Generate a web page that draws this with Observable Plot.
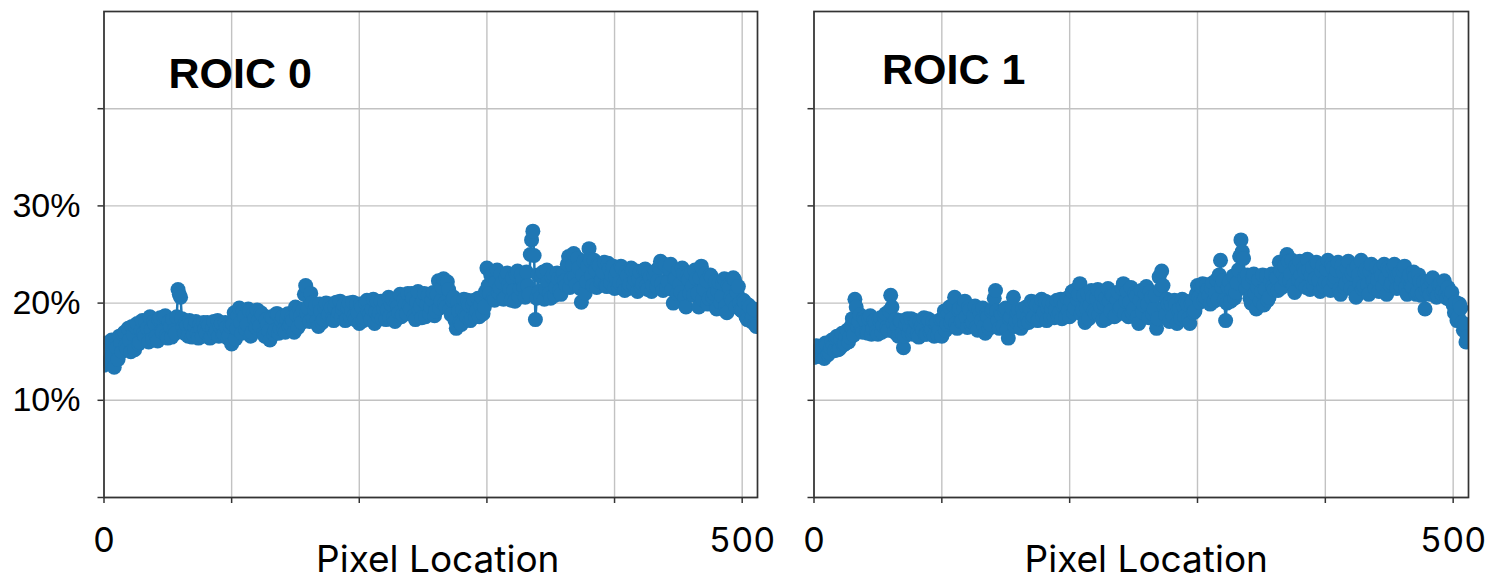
<!DOCTYPE html>
<html>
<head>
<meta charset="utf-8">
<script src="https://cdn.jsdelivr.net/npm/d3@7"></script>
<script src="https://cdn.jsdelivr.net/npm/@observablehq/plot@0.6"></script>
<style>
  html, body { margin: 0; padding: 0; background: #fff; }
  #wrap { position: relative; width: 1488px; height: 582px; overflow: hidden; background: #fff; }
  #wrap svg { position: absolute; top: 0; }
</style>
</head>
<body>
<div id="wrap"></div>
<script>
// ROIC 0 values (%) at even pixel locations (0, 2, 4, ... 510)
const roic0Even = [
  13.6, 15.9, 14.1, 16.2, 13.4, 15.4, 16.6, 15.0, 17.0, 15.3,
  16.2, 17.6, 15.2, 17.9, 16.0, 18.2, 16.6, 17.4, 18.6, 16.3,
  17.8, 16.1, 18.5, 17.0, 18.7, 16.4, 17.6, 18.3, 16.9, 21.4,
  20.6, 17.5, 18.0, 16.6, 17.8, 16.8, 18.1, 16.4, 17.4, 18.0,
  16.9, 17.7, 16.5, 18.1, 17.2, 16.6, 17.9, 16.8, 17.5, 16.7,
  15.8, 19.0, 17.4, 19.5, 16.9, 18.6, 17.8, 19.2, 17.0, 18.4,
  19.3, 17.6, 18.8, 16.6, 17.8, 16.2, 18.5, 17.2, 18.9, 17.4,
  18.6, 17.0, 18.9, 17.8, 18.2, 19.6, 17.5, 18.7, 19.3, 21.8,
  19.5, 21.0, 18.4, 19.8, 17.6, 19.2, 18.3, 20.0, 18.8, 19.5,
  18.2, 20.1, 19.0, 18.6, 19.8, 18.3, 20.0, 19.2, 18.7, 19.9,
  17.9, 19.6, 18.5, 20.3, 18.8, 19.4, 17.9, 20.2, 19.0, 18.4,
  20.1, 19.3, 18.6, 20.4, 18.1, 19.6, 20.9, 18.8, 19.8, 21.0,
  19.4, 20.5, 18.3, 21.2, 19.7, 20.3, 18.6, 20.8, 19.6, 21.1,
  19.2, 22.3, 20.2, 22.5, 19.6, 21.4, 18.8, 20.6, 17.4, 19.2,
  17.8, 20.4, 18.6, 19.8, 18.4, 20.3, 19.2, 18.6, 20.6, 19.6,
  23.6, 21.0, 22.8, 20.3, 23.4, 21.6, 22.1, 20.5, 23.1, 21.4,
  22.6, 20.2, 23.3, 21.5, 22.4, 20.6, 21.8, 25.0, 27.4, 18.3,
  22.9, 20.6, 23.2, 21.4, 22.2, 20.5, 23.0, 21.6, 22.5, 20.9,
  23.1, 21.8, 24.8, 22.5, 25.1, 21.9, 23.6, 20.1, 24.3, 22.2,
  25.6, 22.8, 24.4, 21.6, 23.9, 22.4, 24.2, 21.7, 23.5, 22.9,
  21.5, 23.3, 22.1, 23.6, 21.3, 22.8, 21.9, 23.4, 22.4, 21.2,
  23.2, 22.0, 23.5, 21.4, 22.7, 21.8, 23.3, 22.3, 24.3, 21.3,
  23.9, 22.2, 24.0, 20.0, 22.6, 23.4, 21.1, 23.0, 19.6, 22.4,
  23.1, 20.8, 22.5, 19.6, 23.8, 21.4, 22.3, 20.5, 22.7, 21.0,
  19.4, 22.1, 20.7, 22.5, 19.0, 21.6, 20.3, 22.4, 21.1, 20.0,
  19.2, 20.1, 18.3, 19.6, 18.6, 17.8
];
// ROIC 0 values (%) at odd pixel locations (1, 3, 5, ... 511)
const roic0Odd = [
  15.2, 13.9, 16.0, 14.6, 15.7, 14.2, 15.9, 16.8, 15.6, 17.4,
  15.0, 16.8, 17.5, 15.8, 17.2, 16.9, 18.0, 16.0, 17.3, 18.1,
  16.6, 18.3, 17.1, 18.6, 16.7, 18.1, 16.5, 17.2, 18.6, 20.9,
  18.4, 16.9, 17.7, 18.2, 16.5, 17.6, 16.9, 17.8, 16.6, 17.3,
  18.0, 16.4, 17.4, 16.9, 18.2, 17.6, 16.7, 18.0, 16.4, 17.6,
  17.8, 16.3, 18.7, 18.0, 19.2, 17.3, 19.4, 16.6, 18.9, 17.5,
  18.2, 19.0, 16.9, 18.3, 17.1, 18.6, 16.8, 18.9, 16.9, 18.2,
  17.3, 18.4, 17.6, 18.5, 17.0, 18.8, 19.4, 18.0, 20.9, 19.0,
  18.1, 20.0, 19.3, 18.2, 19.9, 18.0, 19.6, 18.6, 19.9, 18.4,
  19.6, 18.5, 20.2, 19.4, 18.2, 19.6, 18.6, 20.1, 18.3, 19.0,
  19.9, 18.2, 20.0, 19.1, 18.3, 20.4, 19.1, 18.6, 20.2, 19.5,
  18.3, 20.6, 19.9, 18.5, 20.0, 19.0, 18.6, 20.4, 18.9, 19.7,
  21.0, 18.7, 20.1, 19.3, 18.5, 21.0, 19.9, 18.9, 20.4, 18.7,
  20.9, 19.5, 21.6, 20.0, 22.2, 19.3, 20.3, 18.2, 20.1, 18.0,
  19.3, 18.8, 20.3, 18.2, 19.9, 18.6, 20.5, 19.8, 18.9, 21.2,
  21.8, 22.9, 20.5, 22.2, 21.1, 23.0, 20.4, 22.6, 21.9, 20.3,
  21.3, 23.0, 20.7, 22.9, 21.6, 23.2, 20.9, 26.5, 24.9, 20.5,
  21.2, 22.8, 20.4, 23.4, 21.0, 22.7, 20.8, 23.1, 21.3, 22.6,
  22.3, 24.0, 21.6, 23.9, 22.7, 24.6, 21.5, 22.9, 21.0, 23.8,
  24.4, 21.8, 23.4, 24.0, 22.2, 23.2, 21.8, 24.1, 22.1, 23.8,
  22.8, 21.6, 23.8, 22.0, 23.2, 21.5, 23.6, 21.9, 23.3, 22.5,
  21.6, 23.4, 21.8, 23.1, 21.2, 22.9, 21.7, 23.7, 22.0, 24.0,
  21.6, 23.5, 21.4, 22.5, 21.0, 21.9, 23.6, 20.6, 22.8, 21.0,
  21.7, 23.4, 21.0, 22.6, 20.4, 23.0, 19.9, 22.9, 20.6, 22.2,
  21.2, 20.1, 22.0, 19.7, 21.8, 20.6, 22.6, 19.6, 21.7, 19.3,
  20.3, 18.6, 19.8, 18.1, 19.4, 17.6
];
// ROIC 1 values (%) at even pixel locations (0, 2, 4, ... 510)
const roic1Even = [
  14.4, 15.6, 14.8, 15.2, 14.3, 15.7, 14.9, 16.2, 15.1, 16.6,
  15.3, 16.9, 15.8, 17.2, 16.5, 18.4, 20.4, 17.6, 18.8, 17.0,
  18.2, 16.9, 18.7, 17.4, 18.0, 16.8, 18.5, 17.7, 18.9, 17.2,
  20.8, 17.9, 18.3, 16.6, 18.1, 15.4, 17.8, 16.9, 18.4, 17.1,
  18.0, 16.5, 17.6, 18.5, 16.8, 18.2, 17.3, 16.6, 18.0, 17.2,
  16.6, 19.2, 17.8, 19.6, 18.4, 20.6, 17.4, 19.5, 18.2, 20.2,
  17.5, 19.3, 18.0, 19.7, 17.2, 18.9, 19.5, 16.9, 18.6, 17.8,
  19.4, 21.3, 18.2, 19.0, 17.6, 19.5, 16.4, 18.6, 20.6, 18.1,
  19.3, 17.4, 18.8, 19.6, 18.0, 20.2, 18.6, 19.8, 18.3, 20.4,
  19.1, 18.2, 20.0, 19.4, 18.5, 20.3, 19.0, 18.4, 19.9, 20.5,
  18.6, 21.2, 19.5, 20.4, 22.0, 19.3, 18.0, 21.0, 19.8, 20.6,
  18.9, 21.4, 19.7, 18.2, 20.5, 21.5, 19.2, 20.8, 18.7, 21.1,
  19.6, 22.0, 20.2, 18.6, 21.6, 19.4, 20.7, 17.9, 21.3, 19.8,
  21.7, 18.5, 20.6, 19.4, 17.4, 22.7, 23.3, 19.6, 20.4, 18.1,
  19.8, 20.3, 17.9, 19.5, 20.4, 18.6, 19.9, 17.9, 20.2, 19.2,
  21.8, 20.1, 22.0, 20.6, 21.4, 19.9, 22.1, 21.0, 20.4, 24.4,
  22.3, 18.2, 21.6, 20.2, 22.8, 21.1, 23.4, 26.5, 24.6, 21.5,
  22.1, 20.0, 23.0, 19.4, 22.4, 21.2, 19.8, 22.8, 20.6, 23.0,
  21.4, 22.6, 24.2, 21.6, 23.8, 25.0, 22.3, 24.4, 21.1, 23.5,
  24.3, 22.0, 23.2, 24.5, 21.4, 23.7, 22.5, 24.1, 21.2, 23.9,
  22.2, 24.4, 21.3, 23.6, 22.7, 24.2, 20.9, 23.2, 22.0, 24.3,
  21.5, 23.4, 20.6, 22.9, 24.4, 21.8, 23.5, 20.9, 24.0, 22.3,
  23.7, 21.2, 22.8, 24.0, 20.9, 23.3, 22.1, 24.0, 21.5, 23.1,
  22.4, 23.8, 20.9, 22.9, 21.6, 22.7, 21.1, 22.3, 21.0, 19.4,
  22.2, 20.9, 22.6, 21.4, 20.8, 22.0, 21.3, 20.9, 21.6, 20.3,
  19.8, 20.1, 18.6, 19.5, 17.2, 16.0
];
// ROIC 1 values (%) at odd pixel locations (1, 3, 5, ... 511)
const roic1Odd = [
  15.0, 14.5, 15.5, 14.6, 15.9, 14.7, 15.4, 15.6, 16.4, 15.2,
  16.3, 15.7, 16.6, 16.0, 17.6, 16.7, 19.6, 18.1, 17.2, 18.5,
  17.0, 18.4, 16.8, 18.2, 17.1, 18.3, 17.0, 18.6, 17.5, 19.2,
  19.6, 17.0, 17.6, 18.2, 16.9, 16.6, 18.4, 17.5, 16.8, 18.2,
  16.9, 18.1, 17.2, 16.8, 18.4, 17.0, 18.1, 17.9, 16.7, 18.3,
  18.3, 17.2, 19.0, 18.0, 19.8, 17.9, 19.3, 18.1, 19.6, 18.6,
  19.6, 17.8, 18.7, 17.5, 19.4, 18.2, 17.6, 18.9, 17.4, 19.2,
  20.5, 19.2, 17.4, 18.8, 19.2, 17.3, 18.4, 19.5, 17.6, 19.0,
  18.2, 19.4, 17.9, 18.5, 19.5, 18.4, 20.1, 18.2, 19.7, 18.7,
  20.2, 19.5, 18.6, 20.0, 19.3, 18.7, 20.4, 19.7, 18.6, 19.2,
  20.3, 19.0, 21.4, 20.9, 18.9, 20.8, 19.5, 18.4, 21.3, 19.2,
  20.5, 18.8, 20.9, 19.9, 18.4, 20.2, 20.9, 18.6, 20.4, 19.4,
  21.5, 18.9, 21.2, 20.1, 19.0, 21.0, 18.6, 20.3, 19.1, 21.0,
  19.9, 21.2, 18.9, 20.8, 18.4, 21.4, 21.8, 18.8, 19.9, 20.2,
  18.6, 19.9, 19.3, 18.4, 19.7, 20.2, 18.4, 20.0, 19.0, 20.9,
  20.6, 21.7, 20.3, 21.9, 20.8, 21.5, 20.2, 22.4, 22.9, 21.7,
  20.3, 20.0, 22.2, 21.4, 20.5, 22.1, 24.8, 25.3, 22.6, 22.9,
  20.5, 22.7, 21.0, 21.6, 20.2, 22.9, 21.4, 20.3, 22.2, 21.7,
  22.8, 21.3, 23.3, 23.0, 22.4, 24.3, 23.0, 21.8, 23.8, 22.4,
  22.9, 23.6, 21.6, 23.4, 22.9, 21.8, 24.2, 22.4, 23.3, 21.7,
  23.5, 22.0, 24.0, 22.2, 23.4, 21.4, 23.9, 21.6, 23.6, 22.6,
  23.0, 21.2, 23.8, 22.0, 21.5, 23.2, 21.9, 23.3, 22.4, 21.5,
  22.4, 23.5, 21.7, 22.5, 23.6, 21.8, 23.6, 22.7, 22.9, 21.8,
  23.3, 21.6, 22.5, 21.8, 23.2, 20.9, 22.9, 20.8, 22.2, 21.3,
  21.5, 22.3, 21.2, 20.6, 21.9, 21.0, 22.3, 20.5, 20.9, 21.1,
  19.0, 18.2, 19.9, 18.0, 17.8, 16.5
];
const panelTitles = ["ROIC 0", "ROIC 1"];
const xLabel = "Pixel Location";
const yTicks = [0, 0.1, 0.2, 0.3, 0.4];
const yTickLabels = ["", "10%", "20%", "30%", ""];
const xTicks = [0, 100, 200, 300, 400, 500];
const xTickLabels = ["0", "", "", "", "", "500"];

const blue = "#1f77b4";

function rowsFrom(even, odd) {
  const rows = [];
  even.forEach((v, i) => {
    rows.push({x: 2 * i, y: v / 100});
    if (i < odd.length) rows.push({x: 2 * i + 1, y: odd[i] / 100});
  });
  return rows;
}

function makePanel(data, title, showYLabels, width, marginRight, labelDx, titleDx, titleDy) {
  return Plot.plot({
    width, height: 582,
    marginLeft: 103.5, marginRight, marginTop: 11, marginBottom: 85,
    x: {domain: [0, 512]},
    y: {domain: [0, 0.5]},
    style: {fontFamily: "'Liberation Sans', Arial, sans-serif", color: "#000", overflow: "visible", background: "transparent"},
    marks: [
      Plot.gridX(xTicks, {stroke: "#c2c2c2", strokeOpacity: 1, strokeWidth: 1.4}),
      Plot.gridY(yTicks, {stroke: "#c2c2c2", strokeOpacity: 1, strokeWidth: 1.4}),
      Plot.line(data, {x: "x", y: "y", stroke: blue, strokeWidth: 2.5, clip: true}),
      Plot.dot(data, {x: "x", y: "y", r: 7.5, fill: blue, stroke: "none", clip: true}),
      Plot.frame({stroke: "#333", strokeWidth: 1.7}),
      Plot.axisY(yTicks, {
        tickSize: 6, tickPadding: 17.5, fontSize: 34, label: null, stroke: "#333", strokeWidth: 1.5,
        tickFormat: d => showYLabels ? yTickLabels[yTicks.indexOf(d)] : ""
      }),
      Plot.axisX(xTicks, {
        tickSize: 6, tickPadding: 24, fontSize: 34, fontFamily: "Inter, sans-serif", label: null, stroke: "#333", strokeWidth: 1.5,
        tickFormat: d => xTickLabels[xTicks.indexOf(d)]
      }),
      Plot.text([title], {
        text: d => d, frameAnchor: "top-left", textAnchor: "start", lineAnchor: "top",
        dx: titleDx, dy: titleDy, fontSize: 43, fontWeight: "bold", fill: "#000"
      }),
      Plot.text([xLabel], {
        text: d => d, frameAnchor: "bottom", lineAnchor: "top",
        dx: labelDx, dy: 48, fontSize: 37, fontFamily: "Inter, sans-serif", fill: "#000"
      })
    ]
  });
}

const wrap = document.getElementById("wrap");
const p1 = makePanel(rowsFrom(roic0Even, roic0Odd), panelTitles[0], true, 780, 23, 7, 64.5, 46);
p1.style.left = "0px";
const p2 = makePanel(rowsFrom(roic1Even, roic1Odd), panelTitles[1], false, 778, 20, 5, 68, 42);
p2.style.left = "710px";
wrap.appendChild(p1);
wrap.appendChild(p2);
</script>
</body>
</html>
